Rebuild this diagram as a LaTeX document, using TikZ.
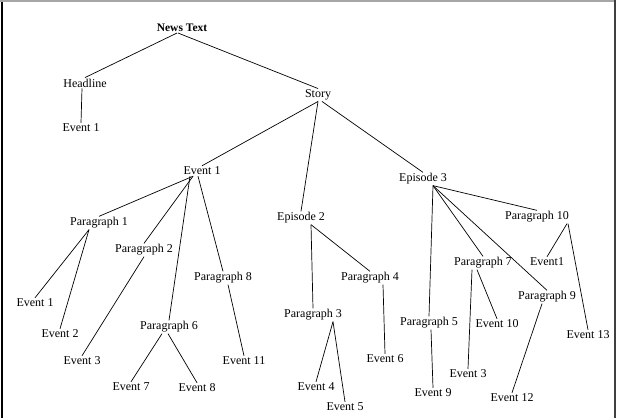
\documentclass[tikz,border=0pt]{standalone}
\usepackage{fontspec}
\setmainfont{Liberation Serif}
\usetikzlibrary{positioning}

\begin{document}
\begin{tikzpicture}[x=1pt, y=-1pt,
    every node/.style={font=\fontsize{12}{14}\selectfont, inner sep=1pt},
    edge/.style={line width=0.7pt}]
    \useasboundingbox (0,0) rectangle (618,418);

    % Frame (no bottom edge)
    \draw[line width=2pt] (1.5,0) -- (1.5,418);
    \draw[gray!70, line width=1.5pt] (0,1) -- (615,1);
    \draw[black!75, line width=2pt] (614.5,0) -- (614.5,418);

    % Top levels
    \node[font=\fontsize{11.5}{14}\selectfont\bfseries] (news) at (182,28) {News Text};
    \node (head) at (85,83) {Headline};
    \node (hev1) at (81,128) {Event 1};
    \node (story) at (318,95) {Story};
    \node (ev1) at (202,171) {Event 1};
    \node (ep2) at (301,218) {Episode 2};
    \node (ep3) at (423,179) {Episode 3};

    % Under Event 1
    \node (par1) at (99,223) {Paragraph 1};
    \node (par2) at (144,250) {Paragraph 2};
    \node (par8) at (223,278) {Paragraph 8};
    \node (par6) at (169,327) {Paragraph 6};
    \node (e1) at (35,303) {Event 1};
    \node (e2) at (60,334) {Event 2};
    \node (e3) at (82,361) {Event 3};
    \node (e7) at (131,387) {Event 7};
    \node (e8) at (197,388) {Event 8};
    \node (e11) at (244,361) {Event 11};

    % Under Episode 2
    \node (par3) at (313,315) {Paragraph 3};
    \node (par4) at (370,278) {Paragraph 4};
    \node (e4) at (316,387) {Event 4};
    \node (e5) at (345,407) {Event 5};
    \node (e6) at (385,359) {Event 6};

    % Under Episode 3
    \node (par10) at (537,217) {Paragraph 10};
    \node (par7) at (483,263) {Paragraph 7};
    \node (par9) at (547,297) {Paragraph 9};
    \node (par5) at (429,323) {Paragraph 5};
    \node (e9) at (433,393) {Event 9};
    \node (e3b) at (468,374) {Event 3};
    \node (e10) at (497,324) {Event 10};
    \node (e1b) at (547,262) {Event1};
    \node (e13) at (588,335) {Event 13};
    \node (e12) at (512,398) {Event 12};

    % Branches: parent / shift of start point / child
    \foreach \a/\s/\b in {news/-5/head, news/-4/story, head/-3/hev1,
        story/0/ev1, story/0/ep2, story/4/ep3,
        ev1/-9/par1, ev1/-9/par2, ev1/-12/par6, ev1/-4/par8,
        par1/-10/e1, par1/-10/e2, par2/0/e3, par6/-7/e7, par6/-1/e8, par8/5/e11,
        ep2/10/par3, ep2/10/par4, par3/20/e4, par3/20/e5, par4/13/e6,
        ep3/10/par5, ep3/10/par7, ep3/10/par9, ep3/10/par10,
        par5/2/e9, par7/-11/e3b, par7/-6/e10, par9/-5/e12,
        par10/30/e1b, par10/31/e13}
        \draw[edge] ([xshift=\s pt]\a.south) -- (\b.north);

\end{tikzpicture}
\end{document}
